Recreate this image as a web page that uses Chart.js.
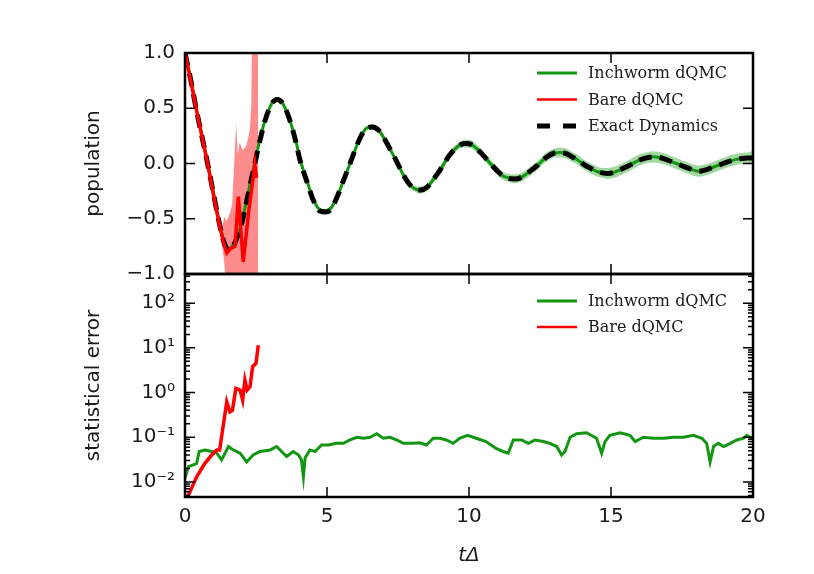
<!DOCTYPE html>
<html>
<head>
<meta charset="utf-8">
<script src="https://cdn.jsdelivr.net/npm/chart.js@4.4.1/dist/chart.umd.min.js"></script>
<style>
  body { margin: 0; background: #fff; }
  #wrap { position: relative; width: 814px; height: 574px; }
  canvas { position: absolute; left: 0; }
  #top { top: 0; }
  #bottom { top: 260px; }
</style>
</head>
<body>
<div id="wrap">
  <canvas id="top" width="814" height="290"></canvas>
  <canvas id="bottom" width="814" height="314"></canvas>
</div>
<script>
// tick labels
const xTicks = [0, 5, 10, 15, 20];
const popTicks = [-1, -0.5, 0, 0.5, 1];
const errTicks = [0.01, 0.1, 1, 10, 100];
const errTickLabels = ['10⁻²', '10⁻¹', '10⁰', '10¹', '10²'];

// top panel: population
const tTop = [
  0, 0.2, 0.39, 0.6, 0.78, 1.0, 1.2, 1.38,
  1.55, 1.75, 2.0, 2.22, 2.46, 2.65, 2.82, 3.05,
  3.25, 3.45, 3.68, 3.9, 4.05, 4.3, 4.53, 4.75,
  4.95, 5.15, 5.36, 5.57, 5.78, 6.0, 6.2, 6.4,
  6.6, 6.82, 7.03, 7.24, 7.45, 7.66, 7.88, 8.1,
  8.3, 8.5, 8.7, 8.9, 9.1, 9.3, 9.5, 9.7,
  9.9, 10.1, 10.33, 10.55, 10.75, 10.97, 11.18, 11.4,
  11.6, 11.8, 12.0, 12.2, 12.4, 12.6, 12.8, 13.0,
  13.2, 13.42, 13.63, 13.84, 14.05, 14.26, 14.48, 14.7,
  14.9, 15.1, 15.3, 15.5, 15.7, 15.9, 16.1, 16.3,
  16.5, 16.7, 16.9, 17.1, 17.3, 17.5, 17.7, 17.9,
  18.1, 18.3, 18.53, 18.75, 18.95, 19.17, 19.38, 19.6, 19.8, 20.0
];
const exactPop = [
  1.00, 0.76, 0.50, 0.24, 0.02, -0.27, -0.53, -0.72,
  -0.78, -0.72, -0.54, -0.28, 0.00, 0.22, 0.39, 0.54,
  0.58, 0.54, 0.40, 0.20, 0.03, -0.17, -0.34, -0.43,
  -0.44, -0.41, -0.30, -0.16, -0.02, 0.13, 0.25, 0.32,
  0.33, 0.30, 0.22, 0.12, 0.02, -0.09, -0.18, -0.23,
  -0.24, -0.22, -0.16, -0.09, -0.01, 0.07, 0.13, 0.17,
  0.18, 0.17, 0.12, 0.06, 0.00, -0.06, -0.11, -0.135,
  -0.14, -0.13, -0.10, -0.06, -0.02, 0.03, 0.07, 0.095,
  0.10, 0.09, 0.06, 0.03, -0.01, -0.04, -0.07, -0.085,
  -0.09, -0.08, -0.06, -0.035, -0.01, 0.02, 0.04, 0.055,
  0.06, 0.055, 0.04, 0.02, 0.00, -0.02, -0.04, -0.06,
  -0.07, -0.06, -0.04, -0.02, 0.00, 0.02, 0.035, 0.045, 0.05, 0.05
];
const inchwormPop = [
  1.00, 0.77, 0.51, 0.25, 0.03, -0.26, -0.52, -0.71,
  -0.77, -0.71, -0.53, -0.27, 0.01, 0.23, 0.39, 0.54,
  0.58, 0.54, 0.40, 0.21, 0.04, -0.16, -0.33, -0.42,
  -0.43, -0.40, -0.30, -0.16, -0.02, 0.13, 0.25, 0.32,
  0.33, 0.30, 0.22, 0.12, 0.02, -0.09, -0.18, -0.23,
  -0.24, -0.22, -0.16, -0.09, -0.01, 0.07, 0.13, 0.17,
  0.18, 0.17, 0.12, 0.06, 0.00, -0.06, -0.11, -0.13,
  -0.14, -0.13, -0.10, -0.06, -0.02, 0.03, 0.07, 0.095,
  0.10, 0.09, 0.06, 0.03, -0.01, -0.04, -0.07, -0.085,
  -0.09, -0.08, -0.06, -0.035, -0.01, 0.02, 0.04, 0.055,
  0.06, 0.055, 0.04, 0.02, 0.00, -0.02, -0.04, -0.06,
  -0.07, -0.06, -0.04, -0.02, 0.00, 0.02, 0.035, 0.045, 0.05, 0.06
];
// half width of the shaded inchworm band
const inchwormBand = [
  0.005, 0.005, 0.005, 0.005, 0.005, 0.005, 0.005, 0.005,
  0.008, 0.008, 0.008, 0.008, 0.008, 0.008, 0.008, 0.008,
  0.012, 0.012, 0.012, 0.012, 0.012, 0.012, 0.012, 0.012,
  0.02, 0.02, 0.02, 0.02, 0.02, 0.02, 0.02, 0.02,
  0.025, 0.025, 0.025, 0.025, 0.025, 0.025, 0.025, 0.025,
  0.032, 0.032, 0.032, 0.032, 0.032, 0.032, 0.032, 0.032,
  0.036, 0.036, 0.036, 0.036, 0.036, 0.036, 0.036, 0.036,
  0.040, 0.040, 0.040, 0.040, 0.040, 0.040, 0.040, 0.040,
  0.045, 0.045, 0.045, 0.045, 0.045, 0.045, 0.045, 0.045,
  0.050, 0.050, 0.050, 0.050, 0.050, 0.050, 0.050, 0.050,
  0.050, 0.050, 0.050, 0.050, 0.050, 0.050, 0.050, 0.050,
  0.050, 0.050, 0.050, 0.050, 0.050, 0.050, 0.050, 0.050, 0.050, 0.050
];

const tBare = [0, 0.2, 0.39, 0.6, 0.78, 1.0, 1.2, 1.35, 1.47, 1.6, 1.76, 1.88, 2.05, 2.25, 2.46, 2.52];
const barePop = [1.0, 0.75, 0.50, 0.24, 0.02, -0.28, -0.54, -0.71, -0.81, -0.77, -0.75, -0.30, -0.89, -0.42, -0.01, -0.13];
const tBareBand = [1.3, 1.38, 1.45, 1.5, 1.58, 1.66, 1.73, 1.8, 1.86, 1.92, 2.04, 2.16, 2.28, 2.33, 2.37, 2.45, 2.52, 2.58];
const bareUpper = [-0.6, -0.48, -0.52, -0.50, -0.45, -0.37, 0.0, 0.36, 0.08, 0.19, 0.12, 0.16, 0.30, 0.50, 1.2, 1.3, 1.3, 1.3];
const bareLower = [-0.72, -0.90, -1.1, -1.1, -1.1, -1.1, -1.1, -1.1, -1.1, -1.1, -1.1, -1.1, -1.1, -1.1, -1.1, -1.1, -1.1, -1.1];

// bottom panel: statistical error
const tInchErr = [
  0, 0.12, 0.29, 0.41, 0.5, 0.7, 0.94, 1.12, 1.29, 1.53, 1.7, 1.94, 2.17, 2.4, 2.64,
  3.0, 3.23, 3.4, 3.58, 3.81, 4.0, 4.1, 4.17, 4.23, 4.4, 4.58, 4.81, 5.05, 5.34, 5.58,
  5.81, 6.05, 6.28, 6.52, 6.75, 6.98, 7.22, 7.45, 7.69, 8.04, 8.27, 8.5, 8.74, 8.97,
  9.2, 9.44, 9.67, 9.95, 10.25, 10.6, 10.95, 11.2, 11.38, 11.56, 11.85, 12.09, 12.32,
  12.62, 12.85, 13.09, 13.26, 13.38, 13.56, 13.79, 14.14, 14.49, 14.67, 14.79, 14.96,
  15.32, 15.67, 15.85, 16.14, 16.5, 16.85, 17.2, 17.55, 17.9, 18.2, 18.37, 18.49,
  18.61, 18.78, 18.96, 19.2, 19.43, 19.67, 19.78, 19.96, 20.0
];
const inchErr = [
  0.012, 0.022, 0.024, 0.026, 0.048, 0.052, 0.048, 0.044, 0.031, 0.062, 0.052, 0.044, 0.028, 0.040, 0.048,
  0.052, 0.062, 0.048, 0.037, 0.048, 0.040, 0.031, 0.013, 0.035, 0.052, 0.048, 0.067, 0.067, 0.073, 0.073,
  0.087, 0.10, 0.095, 0.10, 0.12, 0.095, 0.10, 0.087, 0.073, 0.073, 0.075, 0.067, 0.095, 0.095,
  0.087, 0.073, 0.095, 0.11, 0.095, 0.08, 0.056, 0.048, 0.044, 0.087, 0.087, 0.073, 0.087,
  0.08, 0.073, 0.062, 0.040, 0.048, 0.10, 0.12, 0.126, 0.095, 0.044, 0.08, 0.11,
  0.126, 0.11, 0.08, 0.10, 0.095, 0.095, 0.10, 0.10, 0.11, 0.095, 0.073, 0.028,
  0.062, 0.073, 0.062, 0.073, 0.087, 0.095, 0.11, 0.095, 0.10
];
const tBareErr = [0.05, 0.41, 0.7, 0.94, 1.12, 1.22, 1.47, 1.58, 1.67, 1.79, 1.94, 2.03, 2.11, 2.19, 2.29, 2.38, 2.5, 2.58];
const bareErr = [0.004, 0.013, 0.026, 0.040, 0.052, 0.052, 0.62, 0.37, 0.40, 1.24, 1.14, 0.68, 1.9, 1.14, 1.35, 3.8, 4.5, 11.5];

const GREEN = '#129612';
const RED = '#ff0000';
const tickFont = { family: 'DejaVu Sans', size: 20 };

Chart.defaults.font.family = 'DejaVu Sans';
Chart.defaults.color = '#1a1a1a';

const pts = (xs, ys) => xs.map((x, i) => ({ x, y: ys[i] }));

// matplotlib style frame with inward ticks
const frameTicks = {
  id: 'frameTicks',
  afterDatasetsDraw(chart, args, opts) {
    const { ctx, chartArea: a } = chart;
    const x = chart.scales.x, y = chart.scales.y;
    ctx.save();
    ctx.strokeStyle = '#000';
    ctx.lineWidth = 1.5;
    ctx.beginPath();
    opts.xMajor.forEach(v => {
      const p = x.getPixelForValue(v);
      ctx.moveTo(p, a.bottom); ctx.lineTo(p, a.bottom - 10);
      ctx.moveTo(p, a.top); ctx.lineTo(p, a.top + 10);
    });
    const tick = (v, len) => {
      const p = y.getPixelForValue(v);
      ctx.moveTo(a.left, p); ctx.lineTo(a.left + len, p);
      ctx.moveTo(a.right, p); ctx.lineTo(a.right - len, p);
    };
    opts.yMajor.forEach(v => tick(v, 10));
    (opts.yMinor || []).forEach(v => tick(v, 5));
    ctx.stroke();
    ctx.lineWidth = 2.5;
    ctx.strokeRect(a.left, a.top, a.right - a.left, a.bottom - a.top);
    ctx.restore();
  }
};

// legend inside the plot, upper right
const innerLegend = {
  id: 'innerLegend',
  afterDraw(chart, args, opts) {
    const ctx = chart.ctx;
    const items = chart.data.datasets.filter(d => d.label);
    ctx.save();
    ctx.font = '16px "DejaVu Serif"';
    ctx.fillStyle = '#1a1a1a';
    ctx.textBaseline = 'middle';
    items.forEach((d, i) => {
      const y = opts.top + i * opts.rowGap;
      ctx.beginPath();
      ctx.strokeStyle = d.borderColor;
      ctx.lineWidth = d.legendWidth || d.borderWidth;
      ctx.setLineDash(d.legendDash || []);
      ctx.moveTo(opts.left, y);
      ctx.lineTo(opts.left + 40, y);
      ctx.stroke();
      ctx.setLineDash([]);
      ctx.fillText(d.label, opts.left + 51, y + 1);
    });
    ctx.restore();
  }
};

const xScale = {
  type: 'linear', min: 0, max: 20,
  afterBuildTicks: s => { s.ticks = xTicks.map(v => ({ value: v })); }
};
// fixed axis width, no extra room for the end labels
const fixY = s => { s.width = 103; s.paddingTop = 0; s.paddingBottom = 0; };

new Chart(document.getElementById('top'), {
  type: 'line',
  data: {
    datasets: [
      { label: 'Inchworm dQMC', data: pts(tTop, inchwormPop), borderColor: GREEN, borderWidth: 3,
        pointRadius: 0, cubicInterpolationMode: 'monotone', tension: 0.4, fill: false, order: 2 },
      { label: 'Bare dQMC', data: pts(tBare, barePop), borderColor: RED, borderWidth: 3.5, legendWidth: 2.5,
        pointRadius: 0, tension: 0, fill: false, order: 0 },
      { label: 'Exact Dynamics', data: pts(tTop, exactPop), borderColor: '#000', borderWidth: 5,
        borderDash: [13, 8], legendDash: [13, 13], legendWidth: 5,
        pointRadius: 0, cubicInterpolationMode: 'monotone', tension: 0.4, fill: false, order: 1 },
      { data: pts(tBareBand, bareUpper), borderColor: 'rgba(0,0,0,0)', pointRadius: 0, tension: 0,
        backgroundColor: 'rgba(255,0,0,0.45)', fill: { target: 4 }, clip: 0, order: 3 },
      { data: pts(tBareBand, bareLower), borderColor: 'rgba(0,0,0,0)', pointRadius: 0, tension: 0,
        fill: false, clip: 0, order: 3 },
      { data: pts(tTop, inchwormPop.map((v, i) => v + inchwormBand[i])), borderColor: 'rgba(0,0,0,0)',
        pointRadius: 0, cubicInterpolationMode: 'monotone', tension: 0.4,
        backgroundColor: 'rgba(20,160,20,0.4)', fill: { target: 6 }, clip: 0, order: 4 },
      { data: pts(tTop, inchwormPop.map((v, i) => v - inchwormBand[i])), borderColor: 'rgba(0,0,0,0)',
        pointRadius: 0, cubicInterpolationMode: 'monotone', tension: 0.4, fill: false, clip: 0, order: 4 }
    ]
  },
  options: {
    responsive: false,
    animation: false,
    devicePixelRatio: 1,
    layout: { padding: { left: 82, right: 61, top: 53, bottom: 16 } },
    plugins: {
      legend: { display: false },
      tooltip: { enabled: false },
      frameTicks: { xMajor: xTicks, yMajor: popTicks },
      innerLegend: { left: 537, top: 73, rowGap: 26.5 }
    },
    scales: {
      x: { ...xScale, display: false },
      y: {
        type: 'linear', min: -1, max: 1,
        afterBuildTicks: s => { s.ticks = popTicks.map(v => ({ value: v })); },
        afterFit: fixY,
        grid: { display: false, drawTicks: false },
        border: { display: false },
        ticks: { font: tickFont, padding: 10, autoSkip: false,
          callback: v => v.toFixed(1).replace('-', '\u2212') },
        title: { display: true, text: 'population', font: tickFont, padding: 0 }
      }
    }
  },
  plugins: [frameTicks, innerLegend]
});

const errMinor = [];
[0.001, 0.01, 0.1, 1, 10, 100].forEach(d => {
  for (let k = 2; k <= 9; k++) errMinor.push(k * d);
});

new Chart(document.getElementById('bottom'), {
  type: 'line',
  data: {
    datasets: [
      { label: 'Inchworm dQMC', data: pts(tInchErr, inchErr), borderColor: GREEN, borderWidth: 3,
        pointRadius: 0, tension: 0, fill: false, order: 1 },
      { label: 'Bare dQMC', data: pts(tBareErr, bareErr), borderColor: RED, borderWidth: 3.5, legendWidth: 2.5,
        pointRadius: 0, tension: 0, fill: false, order: 0 }
    ]
  },
  options: {
    responsive: false,
    animation: false,
    devicePixelRatio: 1,
    layout: { padding: { left: 82, right: 61, top: 14, bottom: 6 } },
    plugins: {
      legend: { display: false },
      tooltip: { enabled: false },
      frameTicks: { xMajor: xTicks, yMajor: errTicks, yMinor: errMinor.filter(v => v > 0.0046 && v < 450) },
      innerLegend: { left: 537, top: 41, rowGap: 26 }
    },
    scales: {
      x: {
        ...xScale,
        afterFit: s => { s.height = 71; },
        grid: { display: false, drawTicks: false },
        border: { display: false },
        ticks: { font: tickFont, padding: 8, autoSkip: false, maxRotation: 0 },
        title: { display: true, text: 'tΔ', font: { ...tickFont, style: 'italic' }, padding: 0 }
      },
      y: {
        type: 'logarithmic', min: 0.0046, max: 450,
        afterBuildTicks: s => { s.ticks = errTicks.map(v => ({ value: v })); },
        afterFit: fixY,
        grid: { display: false, drawTicks: false },
        border: { display: false },
        ticks: { font: tickFont, padding: 10, autoSkip: false,
          callback: v => errTickLabels[errTicks.indexOf(v)] },
        title: { display: true, text: 'statistical error', font: tickFont, padding: 0 }
      }
    }
  },
  plugins: [frameTicks, innerLegend]
});
</script>
</body>
</html>
